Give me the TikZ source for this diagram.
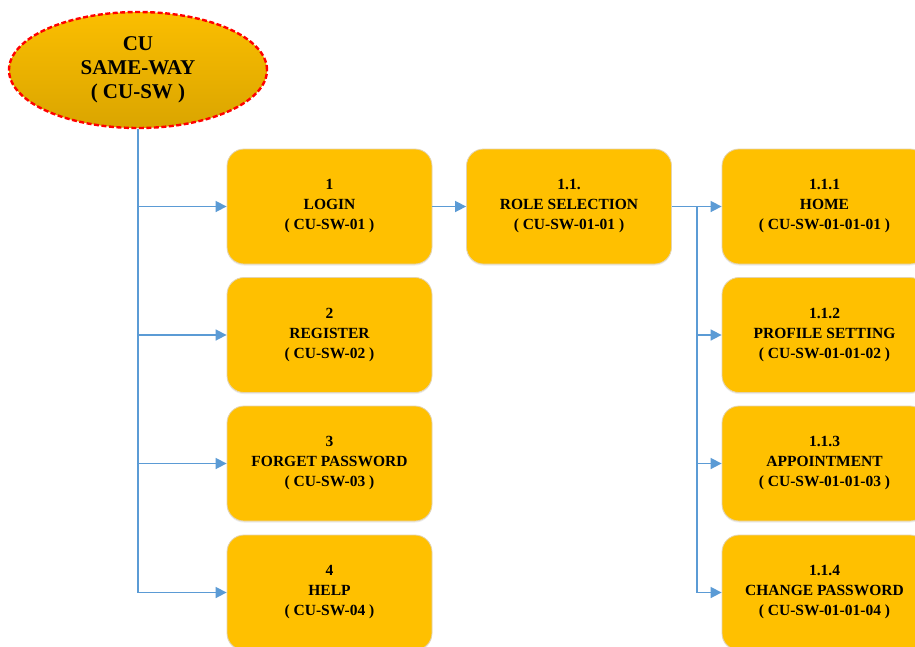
\documentclass[tikz,border=0pt]{standalone}
\usepackage{fontspec}
\setmainfont{Liberation Serif}
\usetikzlibrary{arrows.meta,shapes.geometric,shadows}
\definecolor{boxfill}{HTML}{FFC000}
\definecolor{boxedge}{HTML}{E3D3B0}
\definecolor{ellA}{HTML}{FBBE00}
\definecolor{ellB}{HTML}{DAA500}
\definecolor{lineblue}{HTML}{5B9BD5}
\definecolor{dashred}{HTML}{FF0000}
\tikzset{
  mbox/.style={draw=boxedge, line width=0.8pt, fill=boxfill, rounded corners=17pt,
    minimum width=205pt, minimum height=115pt, inner sep=0pt, align=center,
    font=\bfseries\fontsize{15.5}{20}\selectfont,
    drop shadow={shadow xshift=0pt, shadow yshift=-1.5pt, opacity=0.15}},
  conn/.style={draw=lineblue, line width=1.6pt},
  arr/.style={conn, -{Triangle[length=11pt,width=11pt]}},
}
\begin{document}
\begin{tikzpicture}[x=1pt,y=-1pt]
\useasboundingbox (0,0) rectangle (915,646);
\clip (0,0) rectangle (915,646);
\fill[white] (0,0) rectangle (915,646);
% root ellipse
\node[ellipse, draw=dashred, dash pattern=on 5pt off 2.5pt, line width=2.4pt,
  top color=ellA, bottom color=ellB,
  minimum width=258pt, minimum height=116pt, inner sep=0pt, align=center,
  font=\bfseries\fontsize{21}{24}\selectfont] (root) at (138,70) {\raisebox{-3pt}{CU}\\\raisebox{-3pt}{SAME-WAY}\\\raisebox{-3pt}{( CU-SW )}};
% level 1
\node[mbox] (n1) at (329.5,206.5) {1\\LOGIN\\( CU-SW-01 )};
\node[mbox] (n2) at (329.5,335) {2\\REGISTER\\( CU-SW-02 )};
\node[mbox] (n3) at (329.5,463.5) {3\\FORGET PASSWORD\\( CU-SW-03 )};
\node[mbox] (n4) at (329.5,592.5) {4\\HELP\\( CU-SW-04 )};
% level 2
\node[mbox] (n11) at (569,206.5) {1.1.\\ROLE SELECTION\\( CU-SW-01-01 )};
% level 3
\node[mbox] (n111) at (824.5,206.5) {1.1.1\\HOME\\( CU-SW-01-01-01 )};
\node[mbox] (n112) at (824.5,335) {1.1.2\\PROFILE SETTING\\( CU-SW-01-01-02 )};
\node[mbox] (n113) at (824.5,463.5) {1.1.3\\APPOINTMENT\\( CU-SW-01-01-03 )};
\node[mbox] (n114) at (824.5,592.5) {1.1.4\\CHANGE PASSWORD\\( CU-SW-01-01-04 )};
% connectors
\coordinate (trunk) at (138,592.5);
\coordinate (split) at (697,206.5);
\draw[conn] (root.south) -- (trunk);
\draw[arr] (root.south |- n1.west) -- (n1.west);
\draw[arr] (root.south |- n2.west) -- (n2.west);
\draw[arr] (root.south |- n3.west) -- (n3.west);
\draw[arr] (trunk) -- (n4.west);
\draw[arr] (n1.east) -- (n11.west);
\draw[arr] (n11.east) -- (n111.west);
\draw[conn] (split) -- (split |- n114.west);
\draw[arr] (split |- n112.west) -- (n112.west);
\draw[arr] (split |- n113.west) -- (n113.west);
\draw[arr] (split |- n114.west) -- (n114.west);
\end{tikzpicture}
\end{document}
